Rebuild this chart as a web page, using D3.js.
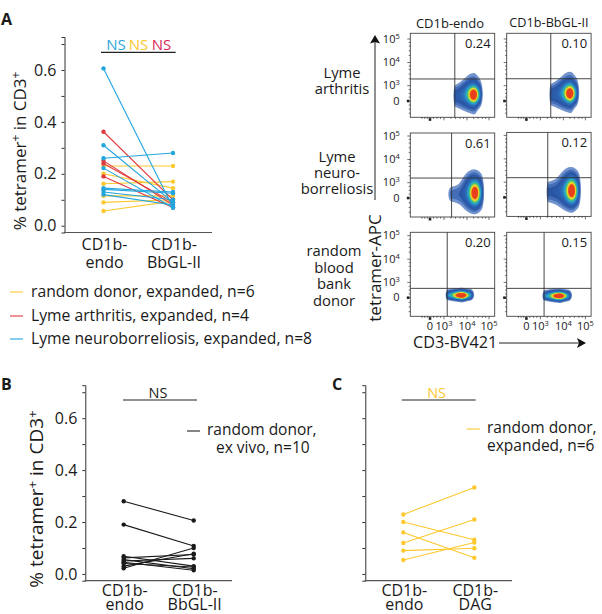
<!DOCTYPE html>
<html><head><meta charset="utf-8">
<script src="https://cdn.jsdelivr.net/npm/d3@7/dist/d3.min.js"></script>
<style>html,body{margin:0;padding:0;background:#fff}svg{display:block}text{font-family:"Open Sans",sans-serif;fill:#1a1a1a}</style>
</head><body><svg id="c" width="602" height="614"></svg>
<script>
// ---------- data ----------
const catsA=["CD1b-endo","CD1b-BbGL-II"], catsB=catsA, catsC=["CD1b-endo","CD1b-DAG"];
const yellowA=[[.23,.23],[.2,.145],[.162,.17],[.115,.115],[.09,.1],[.057,.095]];
const redA=[[.362,.1],[.25,.08],[.24,.09],[.19,.07]];
const blueA=[[.606,.07],[.31,.09],[.26,.28],[.222,.07],[.145,.13],[.14,.125],[.13,.1],[.12,.08]];
const blackB=[[.28,.206],[.19,.108],[.068,.03],[.062,.075],[.055,.02],[.05,.06],[.045,.014],[.04,.027],[.03,.078],[.022,.1]];
const yellowC=[[.229,.333],[.2,.132],[.16,.062],[.119,.21],[.09,.099],[.054,.121]];
const yTicks=[0,.1,.2,.3,.4,.5,.6,.7];
const flowCols=["CD1b-endo","CD1b-BbGL-II"];
const flowGates=["0.24","0.10","0.61","0.12","0.20","0.15"];
// gate position and population centre in axis units (0, 10^3, 10^4, 10^5 -> 0,1,2,3)
const gateX=[1.47,1.45,1.33,1.32,1.14,1.16];
const gateY=[1.29,1.3,1.2,1.19,.61,.61];
const popX=[2.3,2.3,2.36,2.38,1.77,1.83];
const popY=[.41,.5,.33,.44,.16,.12];
const popSpread=[[3.1,4.6],[3.1,4.6],[3.1,6.2],[3.1,6.2],[4.6,1.9],[4.6,1.9]];
// left shoulder of each population: amplitude, vertical spread
const popShoulder=[[.16,8],[.16,8],[.07,7],[.12,8],[.3,2.6],[.3,2.6]];
const flowMajor=[0,1,2,3];
const flowMinor=[-.75,-.5,-.25,.25,.5,.75,1.3,1.5,1.7,1.85,2.3,2.5,2.7,2.85];
const flowLabels=["0","3","4","5"];
const legendA=["random donor, expanded,  n=6","Lyme arthritis, expanded,  n=4","Lyme neuroborreliosis, expanded, n=8"];
const colors={y:"#fbc92e",r:"#e0393f",b:"#22a6dd",k:"#1a1a1a"};

const svg=d3.select("#c");
const defs=svg.append("defs");
defs.append("filter").attr("id","soft").attr("x","-10%").attr("y","-10%").attr("width","120%").attr("height","120%")
  .append("feGaussianBlur").attr("stdDeviation",.55);
function txt(x,y,s,size,o={}){
  const t=svg.append("text").attr("x",x).attr("y",y).attr("font-size",size).text(s);
  if(o.anchor)t.attr("text-anchor",o.anchor);
  if(o.fill)t.style("fill",o.fill);
  if(o.weight)t.attr("font-weight",o.weight);
  return t;
}
function hline(x1,x2,y,c,w){svg.append("line").attr("x1",x1).attr("x2",x2).attr("y1",y).attr("y2",y).attr("stroke",c).attr("stroke-width",w);}
function yTitle(x,y,size){
  const t=svg.append("text").attr("transform",`translate(${x},${y}) rotate(-90)`).attr("text-anchor","middle").attr("font-size",size);
  t.append("tspan").text("% tetramer");
  t.append("tspan").text("+").attr("dy",-6).attr("font-size",size*.7);
  t.append("tspan").text(" in CD3").attr("dy",6);
  t.append("tspan").text("+").attr("dy",-6).attr("font-size",size*.7);
}
function pairPanel(o){
  const y=d3.scaleLinear().domain([-.026,.727]).range([o.bottom,o.bottom-195.5]);
  const x=d3.scalePoint().domain(o.cats).range(o.xr);
  const g=svg.append("g");
  const ax=g.append("g").attr("transform",`translate(${o.left},0)`)
    .call(d3.axisLeft(y).tickValues(yTicks).tickSizeOuter(0).tickSize(3).tickFormat(d=>{const i=Math.round(d*10);return i%2==0&&o.labels?d3.format(".1f")(d):""}));
  ax.selectAll("path,line").attr("stroke","#333").attr("stroke-width",1);
  ax.selectAll("text").attr("font-size",16).attr("dx",-2).style("font-family",'"Open Sans",sans-serif').style("fill","#1a1a1a");
  hline(o.left-.5,o.right,o.bottom,"#555",1.2);
  o.series.forEach(s=>{
    const sg=g.append("g");
    sg.selectAll("line").data(s.v).join("line")
      .attr("x1",x(o.cats[0])).attr("x2",x(o.cats[1])).attr("y1",d=>y(d[0])).attr("y2",d=>y(d[1]))
      .attr("stroke",s.c).attr("stroke-width",1.1);
    o.cats.forEach((c,i)=>sg.selectAll("c"+i).data(s.v).join("circle").attr("cx",x(c)).attr("cy",d=>y(d[i])).attr("r",2.2).attr("fill",s.c));
  });
  o.cats.forEach(c=>{
    const parts=c.split("-"),cx=x(c)+1;
    txt(cx,o.bottom+o.lab1,parts[0]+"-",16,{anchor:"middle"});
    txt(cx,o.bottom+o.lab2,parts.slice(1).join("-"),16,{anchor:"middle"});
  });
}
// panel A
pairPanel({cats:catsA,left:64.5,right:212,bottom:232.5,xr:[103.5,173],labels:true,lab1:17.5,lab2:35,
  series:[{v:yellowA,c:colors.y},{v:redA,c:colors.r},{v:blueA,c:colors.b}]});
yTitle(26,151,17);
hline(101,175.7,52.3,"#222",1.2);
txt(116,50,"NS",15,{anchor:"middle",fill:"#2ea6dd"});
txt(138.5,50,"NS",15,{anchor:"middle",fill:"#fcc72c"});
txt(161.5,50,"NS",15,{anchor:"middle",fill:"#d8285a"});
txt(1,25,"A",16,{weight:700});
[colors.y,colors.r,colors.b].forEach((c,i)=>{
  const ly=[292,316,339][i];
  hline(10,23,ly,c,1.1);
  txt(31,ly+4.5,legendA[i],15.7);
});
// panel B
pairPanel({cats:catsB,left:85.3,right:232,bottom:580.7,xr:[123.7,193.7],labels:true,lab1:15,lab2:29,
  series:[{v:blackB,c:colors.k}]});
yTitle(43,499,19);
hline(123,197,400,"#222",1.2);
txt(158,398,"NS",14.5,{anchor:"middle"});
txt(1,390,"B",16,{weight:700});
hline(187,200,431,"#222",1.1);
txt(207,435,"random donor,",15.5);
txt(216,453,"ex vivo, n=10",15.5);
// panel C
pairPanel({cats:catsC,left:365.3,right:512,bottom:580.7,xr:[403.3,474.3],labels:false,lab1:15,lab2:29,
  series:[{v:yellowC,c:colors.y}]});
hline(401.7,475.7,400,"#222",1.2);
txt(436.6,398,"NS",14.5,{anchor:"middle",fill:"#fcc72c"});
txt(332,390,"C",16,{weight:700});
hline(466.7,480,429,colors.y,1.1);
txt(487,433,"random donor,",15.5);
txt(487,451,"expanded,  n=6",15.5);

// flow plots
const flowColor=d3.scaleLinear()
  .domain([0,.02,.06,.18,.36,.5,.62,.76,.9,1])
  .range(["#aebfe4","#4a76be","#2c55a5","#2b6cb8","#2aa9cf","#45bb7a","#a8d544","#f6e32c","#f5931f","#e3231b"]);
const thresholds=d3.range(0,30).map(i=>i<4?[.012,.03,.06,.09][i]:.09+(i-3)*.034);
flowGates.forEach((label,i)=>{
  const col=i%2,row=Math.floor(i/2);
  const x0=[410.3,506.7][col],w=84.4,y0=[33.3,133,232.3][row]+(row==1&&col==1?-.6:0),h=84;
  const xs=d3.scaleLinear().domain([-1.9,0,1,2,3,3.25]).range([x0-.5,x0+19.7,x0+33.7,x0+56.7,x0+78.7,x0+84.4]);
  const yz=[101-33.3,198-133,297.7-232.3][row];
  const ys=d3.scaleLinear().domain([-1,0,1,2,3,3.3]).range([y0+h,y0+yz,y0+yz-15.3,y0+yz-38.5,y0+yz-62,y0]);
  const g=svg.append("g");
  const cx=xs(popX[i])-x0,cy=ys(popY[i])-y0,[sx,sy]=popSpread[i];
  const gx=xs(gateX[i])-x0;
  const k=2,n=Math.round(w*k),m=Math.round(h*k),vals=new Float64Array(n*m);
  const plume=row==2?[1,1.4,.04]:[7,8,.05];
  const [shA,shS]=popShoulder[i];
  for(let b=0;b<m;b++)for(let a=0;a<n;a++){
    const px=a/k,py=b/k;
    const gs=(mx,my,ax,ay,wt)=>{const dx=(px-mx)/ax,dy=(py-my)/ay;return wt*Math.exp(-.5*(dx*dx+dy*dy));};
    let v=gs(cx,cy,sx,sy,1);
    v+=gs(cx-2,cy-1,sx*1.7,sy*1.3,.33);
    v+=gs(cx-1,cy-plume[0],sx*1.4,plume[1],plume[2]);
    // shoulder stretching from the core to the gate, narrowing to the left
    const t=Math.max(0,Math.min(1,(cx-px)/(cx-gx)));
    const sw=shS*(1-.35*t),dy=(py-cy-(row==2?0:1))/sw;
    const rightFade=px>cx?Math.exp(-Math.pow((px-cx)/3,2)):1;
    v+=shA*(1-.35*t)*Math.exp(-.5*dy*dy)*rightFade;
    if(px<gx)v*=Math.exp(-Math.pow((gx-px)/(i==2?3:1),2));
    if(px>cx+sx*1.9)v*=Math.exp(-Math.pow((px-cx-sx*1.9)/2.4,2));
    vals[b*n+a]=v;
  }
  const contours=d3.contours().size([n,m]).thresholds(thresholds).smooth(true)(Array.from(vals));
  const path=d3.geoPath(d3.geoTransform({point(px,py){this.stream.point(x0+px/k,y0+py/k)}}));
  const id="clip"+i;
  svg.append("clipPath").attr("id",id).append("rect").attr("x",x0).attr("y",y0).attr("width",w).attr("height",h);
  g.append("g").attr("clip-path",`url(#${id})`).append("g").attr("filter","url(#soft)").selectAll("path").data(contours).join("path")
    .attr("d",path).attr("fill",d=>flowColor(d.value)).attr("stroke","none");
  g.append("rect").attr("x",x0).attr("y",y0).attr("width",w).attr("height",h).attr("fill","none").attr("stroke","#444").attr("stroke-width",.9);
  g.append("line").attr("x1",x0+gx).attr("x2",x0+gx).attr("y1",y0).attr("y2",y0+h).attr("stroke","#333").attr("stroke-width",.9);
  g.append("line").attr("x1",x0).attr("x2",x0+w).attr("y1",ys(gateY[i])).attr("y2",ys(gateY[i])).attr("stroke","#333").attr("stroke-width",.9);
  const tick=(v,len,horiz)=>{
    if(horiz)g.append("line").attr("x1",x0-len).attr("x2",x0).attr("y1",ys(v)).attr("y2",ys(v)).attr("stroke","#333").attr("stroke-width",.7);
    else g.append("line").attr("x1",xs(v)).attr("x2",xs(v)).attr("y1",y0+h).attr("y2",y0+h+len).attr("stroke","#333").attr("stroke-width",.7);
  };
  flowMajor.forEach(v=>{tick(v,3,true);tick(v,3,false)});
  flowMinor.forEach(v=>{tick(v,1.6,true);tick(v,1.6,false)});
  g.append("rect").attr("x",x0-3.5).attr("y",ys(0)-1.3).attr("width",2.6).attr("height",2.6).attr("fill","#222");
  g.append("rect").attr("x",xs(0)-1.3).attr("y",y0+h+.9).attr("width",2.6).attr("height",2.6).attr("fill","#222");
  txt(x0+w-4,y0+15,label,13,{anchor:"end"});
  if(col==0)flowMajor.forEach((v,j)=>{
    if(j==0)txt(x0-14,ys(v)+3.5,"0",11,{anchor:"middle"});
    else{
      const t=txt(x0-19,ys(v)+3.5,"10",11,{anchor:"middle"});
      t.append("tspan").text(flowLabels[j]).attr("font-size",7.5).attr("dy",-4);
    }
  });
  if(row==2)flowMajor.forEach((v,j)=>{
    if(j==0)txt(xs(v),y0+h+14,"0",11,{anchor:"middle"});
    else{
      const t=txt(xs(v),y0+h+14,"10",11,{anchor:"middle"});
      t.append("tspan").text(flowLabels[j]).attr("font-size",7.5).attr("dy",-4);
    }
  });
});
txt(450,27.5,flowCols[0],13,{anchor:"middle"});
txt(549,27,flowCols[1],12.7,{anchor:"middle"});
[["Lyme",78],["arthritis",94]].forEach(d=>txt(342,d[1],d[0],14.8,{anchor:"middle"}));
[["Lyme",162],["neuro-",178],["borreliosis",194]].forEach(d=>txt(337,d[1],d[0],14.8,{anchor:"middle"}));
[["random",256],["blood",273],["bank",289],["donor",306]].forEach(d=>txt(334,d[1],d[0],14.8,{anchor:"middle"}));
svg.append("line").attr("x1",375).attr("x2",375).attr("y1",200).attr("y2",40).attr("stroke","#222").attr("stroke-width",1);
svg.append("path").attr("d","M375 35 L380 43.5 L375 42 L370 43.5 Z").attr("fill","#111");
svg.append("line").attr("x1",499).attr("x2",580).attr("y1",343).attr("y2",343).attr("stroke","#222").attr("stroke-width",1);
svg.append("path").attr("d","M586 343 L577 338 L579 343 L577 348 Z").attr("fill","#111");
svg.append("text").attr("transform","translate(381,268) rotate(-90)").attr("text-anchor","middle").attr("font-size",17).text("tetramer-APC");
txt(413,348,"CD3-BV421",16.2);
</script></body></html>
